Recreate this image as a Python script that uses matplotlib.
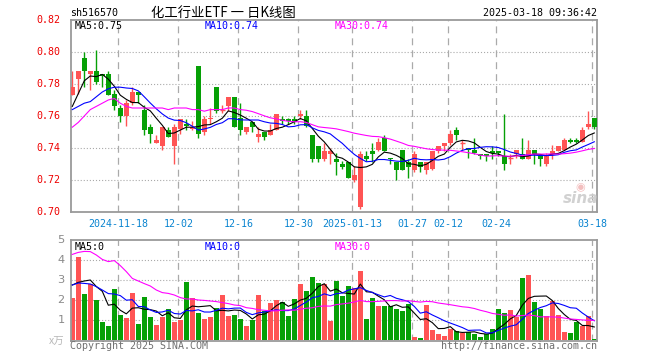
import matplotlib
matplotlib.use('Agg')
import matplotlib.pyplot as plt
import numpy as np
import pandas as pd

plt.rcParams['lines.scale_dashes'] = False

# ---------------- data ----------------
opens = [0.773, 0.783, 0.796, 0.786, 0.788, 0.786, 0.786, 0.774, 0.765, 0.760,
         0.768, 0.775, 0.764, 0.753, 0.743, 0.741, 0.751, 0.741, 0.752, 0.755,
         0.752, 0.791, 0.750, 0.758, 0.778, 0.764, 0.766, 0.772, 0.759, 0.750,
         0.756, 0.747, 0.750, 0.748, 0.751, 0.758, 0.758, 0.758, 0.760, 0.760,
         0.748, 0.741, 0.733, 0.736, 0.733, 0.730, 0.731, 0.720, 0.703, 0.735,
         0.738, 0.739, 0.746, 0.734, 0.731, 0.739, 0.731, 0.726, 0.731, 0.726,
         0.727, 0.738, 0.741, 0.743, 0.751, 0.743, 0.740, 0.739, 0.736, 0.736,
         0.738, 0.738, 0.735, 0.734, 0.736, 0.736, 0.733, 0.739, 0.735, 0.730,
         0.736, 0.738, 0.739, 0.745, 0.745, 0.744, 0.753, 0.759]
highs = [0.788, 0.788, 0.800, 0.788, 0.801, 0.786, 0.788, 0.776, 0.767, 0.770,
         0.778, 0.775, 0.767, 0.755, 0.748, 0.753, 0.753, 0.755, 0.758, 0.758,
         0.757, 0.791, 0.760, 0.765, 0.778, 0.767, 0.772, 0.772, 0.768, 0.753,
         0.756, 0.753, 0.750, 0.755, 0.761, 0.760, 0.759, 0.760, 0.764, 0.764,
         0.748, 0.741, 0.743, 0.740, 0.737, 0.732, 0.731, 0.729, 0.738, 0.738,
         0.743, 0.746, 0.748, 0.734, 0.731, 0.739, 0.733, 0.738, 0.731, 0.731,
         0.738, 0.741, 0.743, 0.751, 0.753, 0.745, 0.740, 0.746, 0.736, 0.736,
         0.741, 0.738, 0.761, 0.736, 0.739, 0.746, 0.745, 0.739, 0.736, 0.737,
         0.742, 0.741, 0.746, 0.746, 0.746, 0.753, 0.763, 0.759]
lows = [0.773, 0.774, 0.778, 0.776, 0.780, 0.778, 0.773, 0.764, 0.756, 0.754,
        0.767, 0.768, 0.748, 0.743, 0.743, 0.739, 0.747, 0.730, 0.749, 0.751,
        0.751, 0.746, 0.748, 0.755, 0.762, 0.762, 0.763, 0.753, 0.748, 0.749,
        0.750, 0.744, 0.745, 0.748, 0.751, 0.755, 0.755, 0.755, 0.758, 0.753,
        0.731, 0.731, 0.732, 0.730, 0.723, 0.727, 0.721, 0.719, 0.702, 0.732,
        0.731, 0.738, 0.738, 0.730, 0.720, 0.726, 0.721, 0.725, 0.725, 0.724,
        0.726, 0.737, 0.738, 0.742, 0.745, 0.739, 0.734, 0.736, 0.733, 0.732,
        0.733, 0.735, 0.726, 0.730, 0.734, 0.733, 0.733, 0.730, 0.729, 0.729,
        0.733, 0.738, 0.739, 0.743, 0.743, 0.744, 0.752, 0.752]
closes = [0.778, 0.788, 0.788, 0.788, 0.781, 0.785, 0.773, 0.766, 0.760, 0.768,
          0.775, 0.773, 0.751, 0.749, 0.745, 0.753, 0.747, 0.753, 0.758, 0.754,
          0.753, 0.749, 0.758, 0.759, 0.763, 0.764, 0.772, 0.753, 0.751, 0.753,
          0.753, 0.749, 0.747, 0.751, 0.761, 0.757, 0.757, 0.756, 0.761, 0.754,
          0.733, 0.733, 0.738, 0.738, 0.731, 0.728, 0.721, 0.723, 0.736, 0.733,
          0.736, 0.744, 0.738, 0.733, 0.726, 0.726, 0.728, 0.736, 0.728, 0.731,
          0.738, 0.741, 0.743, 0.749, 0.748, 0.743, 0.739, 0.737, 0.735, 0.735,
          0.737, 0.737, 0.730, 0.734, 0.739, 0.733, 0.739, 0.736, 0.733, 0.735,
          0.738, 0.741, 0.745, 0.744, 0.744, 0.751, 0.755, 0.753]
volumes = [2.12, 4.17, 2.30, 2.78, 2.00, 0.92, 0.70, 2.55, 1.27, 1.10,
           2.35, 0.80, 2.17, 1.17, 0.75, 1.17, 1.55, 0.92, 1.00, 2.90,
           2.12, 1.37, 1.05, 1.15, 1.60, 2.25, 1.22, 1.27, 1.05, 0.72,
           1.00, 2.25, 1.45, 1.87, 2.00, 1.88, 1.22, 2.05, 2.82, 2.45,
           3.15, 2.87, 2.78, 0.97, 2.97, 2.22, 2.70, 2.62, 3.47, 1.05,
           2.10, 1.72, 1.72, 1.70, 1.57, 1.47, 1.82, 0.17, 0.10, 1.75,
           0.50, 0.32, 0.22, 0.55, 0.47, 0.33, 0.38, 0.32, 0.15, 0.30,
           0.55, 1.55, 1.37, 1.50, 1.17, 3.10, 3.25, 1.90, 1.55, 1.20,
           1.97, 1.25, 0.40, 0.35, 0.92, 0.72, 1.22, 0.05]

# moving-average values before a full window is available
ma5_head = [0.766, 0.774, 0.782, 0.785]
ma10_head = [0.764, 0.766, 0.768, 0.769, 0.772, 0.775, 0.777, 0.778, 0.778]
ma30_head = [0.753, 0.756, 0.760, 0.764, 0.766, 0.768, 0.770, 0.771, 0.768, 0.766,
             0.765, 0.765, 0.765, 0.765, 0.765, 0.765, 0.764, 0.765, 0.765, 0.765,
             0.764, 0.764, 0.763, 0.764, 0.764, 0.764, 0.765, 0.765, 0.764]
vma5_head = [2.75, 2.88, 2.95, 3.00]
vma10_head = [2.75, 2.85, 2.83, 2.80, 2.67, 2.50, 2.32, 2.30, 2.22]
vma30_head = [4.28, 4.38, 4.43, 4.42, 4.25, 4.03, 3.92, 3.97, 3.72, 3.42,
              3.08, 2.95, 2.82, 2.70, 2.50, 2.37, 2.33, 2.25, 2.12, 2.05,
              2.05, 2.00, 1.98, 1.95, 1.92, 1.87, 1.82, 1.75, 1.72]

holidays = ['2025-01-01', '2025-01-28', '2025-01-29', '2025-01-30', '2025-01-31',
            '2025-02-03', '2025-02-04']
tick_dates = ['2024-11-18', '2024-12-02', '2024-12-16', '2024-12-30', '2025-01-13',
              '2025-01-27', '2025-02-12', '2025-02-24', '2025-03-18']
tick_labels = ['2024-11-18', '12-02', '12-16', '12-30', '2025-01-13',
               '01-27', '02-12', '02-24', '03-18']
price_ticks = [0.70, 0.72, 0.74, 0.76, 0.78, 0.80, 0.82]
vol_ticks = [1, 2, 3, 4, 5]

# ---------------- derived ----------------
dates = pd.bdate_range('2024-11-06', '2025-03-18')
dates = dates[~dates.isin(pd.to_datetime(holidays))]
x = np.arange(len(dates))
tick_idx = [int(np.where(dates == pd.Timestamp(d))[0][0]) for d in tick_dates]


def ma(values, n, head):
    s = pd.Series(values).rolling(n).mean().to_numpy()
    s[:len(head)] = head
    return s


o = np.array(opens); h = np.array(highs); l = np.array(lows); c = np.array(closes)
v = np.array(volumes)
up = c >= o

RED = '#ff5454'
GREEN = '#06a006'
GRID = '#aaaaaa'
FRAME = '#9a9a9a'
MONO = 'DejaVu Sans Mono'
FS = 7.2

W, H = 660, 360
fig = plt.figure(figsize=(6.6, 3.6), dpi=100)
fig.patch.set_facecolor('white')


def fx(px):
    return px / W


def fy(py):
    return 1 - py / H


ax = fig.add_axes([fx(70.5), fy(212), fx(597) - fx(70.5), fy(20) - fy(212)])
axv = fig.add_axes([fx(70.5), fy(340.5), fx(597) - fx(70.5), fy(240) - fy(340.5)])

xl = (-0.3, 87.45)
for a in (ax, axv):
    a.set_xlim(*xl)
    a.set_xticks([])
    a.set_yticks([])
    for s in a.spines.values():
        s.set_color(FRAME)
        s.set_linewidth(1.3)
    for ti in tick_idx:
        a.axvline(ti - 0.33, color=GRID, lw=0.9, ls=(0, (5, 3.6)), zorder=0)

ax.set_ylim(0.70, 0.82)
axv.set_ylim(-0.025, 5)

for yv in price_ticks[1:-1]:
    ax.axhline(yv, color=GRID, lw=0.8, ls=(0, (0.8, 1.4)), zorder=0)
for yv in vol_ticks[:-1]:
    axv.axhline(yv, color=GRID, lw=0.8, ls=(0, (0.8, 1.4)), zorder=0)

# candles
cols = np.where(up, RED, GREEN)
ax.vlines(x, l, h, colors=cols, lw=1.0, zorder=2)
body_lo = np.minimum(o, c)
body_h = np.abs(c - o)
for i in range(len(x)):
    if body_h[i] < 1e-9:
        ax.hlines(c[i], x[i] - 0.38, x[i] + 0.38, colors=cols[i], lw=1.0, zorder=3)
    else:
        ax.bar(x[i], body_h[i], bottom=body_lo[i], width=0.76, color=cols[i],
               edgecolor=cols[i], linewidth=0, zorder=3)

ax.plot(x, ma(closes, 5, ma5_head), color='black', lw=0.8, zorder=4)
ax.plot(x, ma(closes, 10, ma10_head), color='#0000ff', lw=0.8, zorder=4)
ax.plot(x, ma(closes, 30, ma30_head), color='#ff00ff', lw=0.8, zorder=4)

# volume
axv.bar(x, v, width=0.8, color=cols, linewidth=0, zorder=2)
axv.plot(x, ma(volumes, 5, vma5_head), color='black', lw=0.8, zorder=4)
axv.plot(x, ma(volumes, 10, vma10_head), color='#0000ff', lw=0.8, zorder=4)
axv.plot(x, ma(volumes, 30, vma30_head), color='#ff00ff', lw=0.8, zorder=4)

# y labels
for yv in price_ticks:
    ax.text(-0.02, (yv - 0.70) / 0.12, f'{yv:.2f}', transform=ax.transAxes,
            ha='right', va='center', color='#ee0000', fontsize=FS, family=MONO)
for yv in vol_ticks:
    axv.text(-0.011, (yv + 0.025) / 5.025, str(yv), transform=axv.transAxes,
             ha='right', va='center', color='#8a8a8a', fontsize=8.2, family='DejaVu Sans')
fig.text(fx(64), fy(342), 'x万', ha='right', va='center', color='#b8b8b8',
         fontsize=7.5, family=['Noto Sans CJK SC', 'DejaVu Sans'])

# x labels
for ti, lab in zip(tick_idx, tick_labels):
    ax.text(ti - 0.33, 0.70, lab, transform=ax.transData, ha='center', va='top',
            color='#0a84d0', fontsize=FS, family=MONO)
for t in ax.texts[-len(tick_labels):]:
    t.set_y(0.70 - 0.0045)

# MA labels
fig.text(fx(75), fy(26), 'MA5:0.75', color='black', fontsize=FS, family=MONO, va='center')
fig.text(fx(205), fy(26), 'MA10:0.74', color='#0000ff', fontsize=FS, family=MONO, va='center')
fig.text(fx(335), fy(26), 'MA30:0.74', color='#ff00ff', fontsize=FS, family=MONO, va='center')
fig.text(fx(75), fy(246.5), 'MA5:0', color='black', fontsize=FS, family=MONO, va='center')
fig.text(fx(205), fy(246.5), 'MA10:0', color='#0000ff', fontsize=FS, family=MONO, va='center')
fig.text(fx(335), fy(246.5), 'MA30:0', color='#ff00ff', fontsize=FS, family=MONO, va='center')

# header
fig.text(fx(70), fy(13.5), 'sh516570', color='black', fontsize=FS, family=MONO, va='center')
fig.text(fx(223), fy(12.5), '化工行业ETF 一 日K线图', color='black', fontsize=9.6,
         family=['Noto Sans CJK SC', 'DejaVu Sans'], ha='center', va='center')
fig.text(fx(597), fy(13.5), '2025-03-18 09:36:42', color='black', fontsize=FS,
         family=MONO, ha='right', va='center')

# footer
fig.text(fx(70), fy(346), 'Copyright 2025 SINA.COM', color='#707070', fontsize=FS,
         family=MONO, va='center')
fig.text(fx(597), fy(346), 'http://finance.sina.com.cn', color='#707070', fontsize=FS,
         family=MONO, va='center', ha='right')

# watermark
fig.text(fx(581), fy(198), 'sina', color='#cccccc', fontsize=11, style='italic',
         weight='bold', ha='center', va='center', family='DejaVu Sans', alpha=0.9)
fig.text(fx(580), fy(187), '◉', color='#f0b0b0', fontsize=8, ha='center', va='center',
         family='DejaVu Sans', alpha=0.8)

fig.savefig('out.png', dpi=100, facecolor='white')
